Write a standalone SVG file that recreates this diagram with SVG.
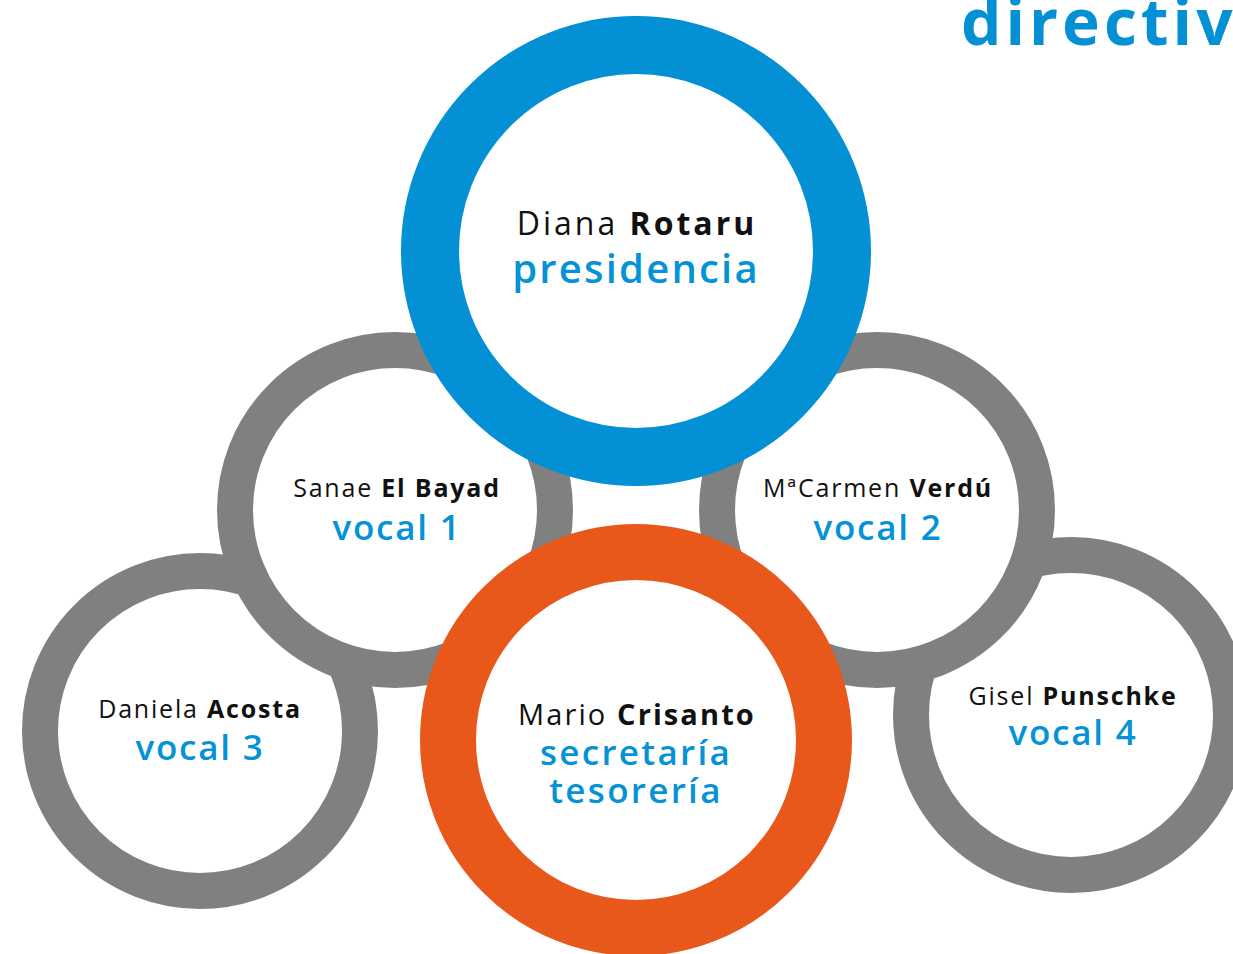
<svg xmlns="http://www.w3.org/2000/svg" width="1233" height="954" viewBox="0 0 1233 954">
<style>
.ring{fill:#fff}
.gray{stroke:#808080;stroke-width:36}
.blue{stroke:#0490D4;stroke-width:58}
.orange{stroke:#E8581A;stroke-width:56}
text{font-family:"Open Sans","Noto Sans",sans-serif;text-anchor:middle}
.name{fill:#111;font-size:25px;font-weight:400;letter-spacing:1.8px}
.b{font-weight:700}
.role{fill:#0592D6;font-size:35px;font-weight:600;letter-spacing:1.8px}
</style>
<rect width="1233" height="954" fill="#fff"/>
<text x="961" y="45" style="text-anchor:start;font-size:64px;font-weight:700;fill:#0490D4;letter-spacing:4px">directiv</text>
<g id="connectors"/>
<g id="vocal3">
<circle class="ring gray" cx="200" cy="731" r="160"/>
<text class="name" x="200" y="718">Daniela <tspan class="b">Acosta</tspan></text>
<text class="role" x="200" y="760">vocal 3</text>
</g>
<g id="vocal4">
<circle class="ring gray" cx="1071" cy="715" r="160"/>
<text class="name" x="1073" y="705">Gisel <tspan class="b">Punschke</tspan></text>
<text class="role" x="1073" y="745">vocal 4</text>
</g>
<g id="vocal1">
<circle class="ring gray" cx="395" cy="510" r="160"/>
<text class="name" x="397" y="497">Sanae <tspan class="b">El Bayad</tspan></text>
<text class="role" x="397" y="540">vocal 1</text>
</g>
<g id="vocal2">
<circle class="ring gray" cx="877" cy="510" r="160"/>
<text class="name" x="878" y="497">MªCarmen <tspan class="b">Verdú</tspan></text>
<text class="role" x="878" y="540">vocal 2</text>
</g>
<g id="presidencia">
<circle class="ring blue" cx="636" cy="251" r="206"/>
<text class="name" x="637" y="235" style="font-size:32px;letter-spacing:3px">Diana <tspan class="b">Rotaru</tspan></text>
<text class="role" x="636" y="283" style="font-size:40px;letter-spacing:2.2px">presidencia</text>
</g>
<g id="secretaria">
<circle class="ring orange" cx="636" cy="740" r="188"/>
<text class="name" x="637" y="725" style="font-size:29px;letter-spacing:2.1px">Mario <tspan class="b">Crisanto</tspan></text>
<text class="role" x="636" y="765" style="letter-spacing:2.3px">secretaría</text>
<text class="role" x="636" y="803" style="letter-spacing:2.3px">tesorería</text>
</g>
</svg>
